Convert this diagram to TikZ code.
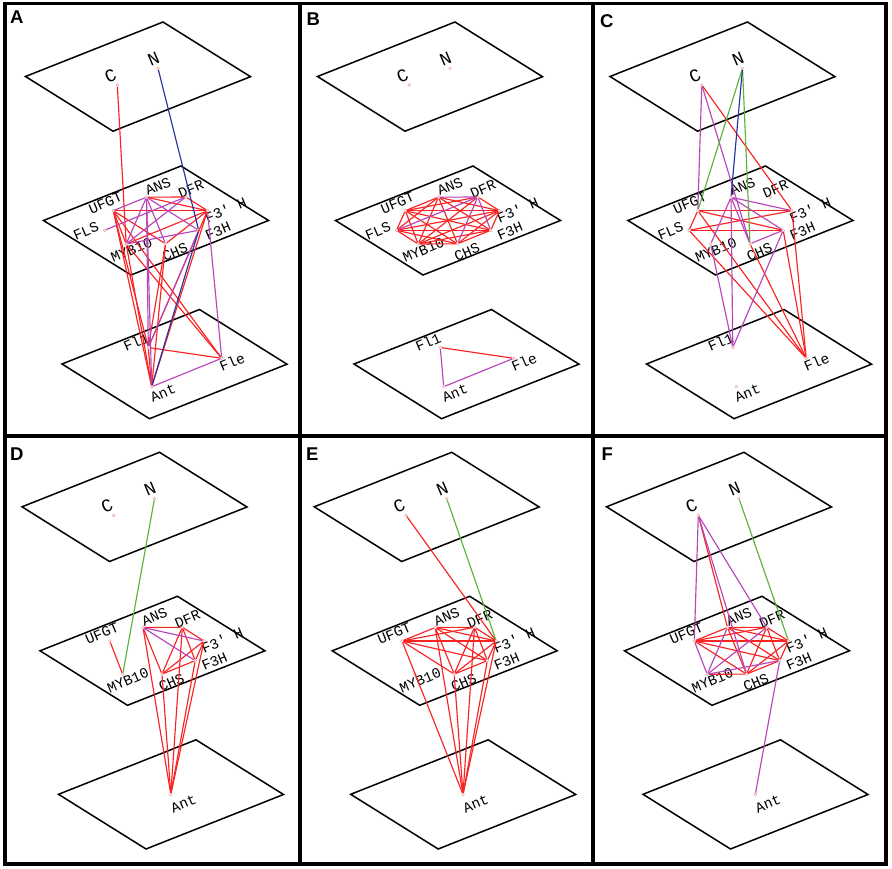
\documentclass[tikz,border=0pt]{standalone}
\usepackage{fontspec}
\usepackage{graphicx}
\newfontfamily\labfont{Liberation Mono}
\newfontfamily\panfont{Liberation Sans}
\definecolor{er}{RGB}{250,35,35}
\definecolor{em}{RGB}{185,70,185}
\definecolor{eb}{RGB}{40,50,160}
\definecolor{eg}{RGB}{90,180,60}
\definecolor{dotc}{RGB}{235,165,165}
\newcommand\rt[1]{\rotatebox{23}{#1}}
\tikzset{
 plane/.style={draw=black, line width=1.5pt, line join=miter},
 frame/.style={draw=black, line width=3.6pt},
 nd/.style={circle, draw=dotc, line width=0.5pt, inner sep=0pt, minimum size=2.8pt},
 lab/.style={font=\labfont\fontsize{14.5}{14.5}\selectfont, inner sep=0pt},
 biglab/.style={font=\labfont\fontsize{18}{18}\selectfont, inner sep=0pt},
 pan/.style={font=\panfont\bfseries\fontsize{18.5}{18.5}\selectfont, anchor=north west, inner sep=0pt},
 re/.style={draw=er, line width=1.15pt},
 ma/.style={draw=em, line width=1.15pt},
 bl/.style={draw=eb, line width=1.15pt},
 gr/.style={draw=eg, line width=1.15pt},
}
\newcommand\planes{%
 \draw[plane] (25.5,76.5) -- (163,22) -- (250.5,76.7) -- (113,131.2) -- cycle;
 \draw[plane] (43.5,220.5) -- (181,166) -- (268.5,220.5) -- (131,275) -- cycle;
 \draw[plane] (62,364) -- (199.5,309.5) -- (287,364.2) -- (149.5,418.7) -- cycle;
}
\newcommand\topnodes[1]{%
 \node[nd] (#1C) at (117.3,85) {};
 \node[nd] (#1N) at (158,68.3) {};
 \node[biglab] (#1Cl) at (110.5,76) {\rt{C}};
 \node[biglab] (#1Nl) at (153.5,59) {\rt{N}};
}
\newcommand\midnodes[1]{%
 \node[nd] (#1U) at (113.3,210.7) {};
 \node[nd] (#1A) at (146.5,197.2) {};
 \node[nd] (#1D) at (185.8,197) {};
 \node[nd] (#1P) at (207.5,210.7) {};
 \node[nd] (#1H) at (198.7,230.3) {};
 \node[nd] (#1S) at (165.5,243.8) {};
 \node[nd] (#1M) at (126.2,244) {};
 \node[lab] (#1Ul) at (105.5,203) {\rt{UFGT}};
 \node[lab] (#1Al) at (158,186.5) {\rt{ANS}};
 \node[lab] (#1Dl) at (191,189) {\rt{DFR}};
 \node[lab] (#1Pl) at (225.5,210) {\rt{F3' H}};
 \node[lab] (#1Hl) at (218,231) {\rt{F3H}};
 \node[lab] (#1Sl) at (175,252) {\rt{CHS}};
 \node[lab] (#1Ml) at (131.5,250) {\rt{MYB10}};
}
\newcommand\flsnode[1]{%
 \node[nd] (#1L) at (104.5,230.3) {};
 \node[lab] (#1Ll) at (86,231) {\rt{FLS}};
}
\newcommand\botthree[1]{%
 \node[nd] (#1F) at (148.3,347.5) {};
 \node[nd] (#1E) at (221.7,358.3) {};
 \node[nd] (#1T) at (151.7,386.7) {};
 \node[lab] (#1Fl) at (136,342) {\rt{Fl1}};
 \node[lab] (#1El) at (232,362) {\rt{Fle}};
 \node[lab] (#1Tl) at (163,393) {\rt{Ant}};
}
\newcommand\botone[1]{%
 \node[nd] (#1T) at (174.3,364) {};
 \node[lab] (#1Tl) at (187,373.5) {\rt{Ant}};
}
\begin{document}
\begin{tikzpicture}[x=1pt,y=-1pt]
\useasboundingbox (0,0) rectangle (892,869);
\fill[white] (0,0) rectangle (892,869);
% ---------- panel A
\begin{scope}
 \planes \topnodes{a} \midnodes{a} \flsnode{a} \botthree{a}
 \foreach \p/\q in {C/M,A/D,A/P,D/P,U/P,U/S,P/S,M/P,U/M,U/F,U/T,U/E,M/T,M/E,S/T,S/F,P/F,P/T,F/E,F/T}
  \draw[re] (a\p) -- (a\q);
 \foreach \p/\q in {U/A,A/M,A/S,A/H,M/D,L/D,M/H,A/F,A/T,P/E,H/F,T/E}
  \draw[ma] (a\p) -- (a\q);
 \foreach \p/\q in {N/H,H/T}
  \draw[bl] (a\p) -- (a\q);
\end{scope}
% ---------- panel B
\begin{scope}[shift={(292,0)}]
 \planes \topnodes{b} \midnodes{b} \flsnode{b} \botthree{b}
 \foreach \p/\q in {U/A,U/D,U/P,U/H,U/S,U/M,U/L,A/P,A/H,A/S,A/M,A/L,D/P,D/M,P/H,P/S,P/M,P/L,H/S,H/M,H/L,S/M,S/L,M/L,F/E}
  \draw[re] (b\p) -- (b\q);
 \foreach \p/\q in {D/A,D/L,D/S,D/H,F/T,T/E}
  \draw[ma] (b\p) -- (b\q);
\end{scope}
% ---------- panel C
\begin{scope}[shift={(584.5,0)}]
 \planes \topnodes{c} \midnodes{c} \flsnode{c} \botthree{c}
 \foreach \p/\q in {C/P,U/P,L/H,U/L,L/P,U/H,U/E,L/E,P/E,H/E,S/E}
  \draw[re] (c\p) -- (c\q);
 \foreach \p/\q in {C/U,C/S,A/P,A/H,A/M,A/S,S/H,A/F,H/F,M/F}
  \draw[ma] (c\p) -- (c\q);
 \foreach \p/\q in {N/U,N/S}
  \draw[gr] (c\p) -- (c\q);
 \draw[bl] (cN) -- (cA);
\end{scope}
% ---------- panel D
\begin{scope}[shift={(-3.5,430.3)}]
 \planes \topnodes{d} \midnodes{d} \botone{d}
 \foreach \p/\q in {U/M,A/D,A/S,D/P,D/S,D/H,S/P,S/H,P/H,A/T,S/T,D/T,H/T,P/T}
  \draw[re] (d\p) -- (d\q);
 \foreach \p/\q in {A/P,A/H}
  \draw[ma] (d\p) -- (d\q);
 \draw[gr] (dN) -- (dM);
\end{scope}
% ---------- panel E
\begin{scope}[shift={(288.7,430.3)}]
 \planes \topnodes{e} \midnodes{e} \botone{e}
 \foreach \p/\q in {C/P,U/A,U/D,U/P,U/H,U/S,A/D,A/P,A/H,A/S,D/P,D/H,D/S,P/H,P/S,H/S,U/T,A/T,D/T,S/T,H/T,P/T}
  \draw[re] (e\p) -- (e\q);
 \draw[gr] (eN) -- (eP);
\end{scope}
% ---------- panel F
\begin{scope}[shift={(581,430.3)}]
 \planes \topnodes{f} \midnodes{f} \botone{f}
 \foreach \p/\q in {C/A,U/A,U/D,U/P,U/H,U/S,A/D,A/P,A/H,A/S,D/P,D/H,D/S,P/H,P/S,H/S,M/S}
  \draw[re] (f\p) -- (f\q);
 \foreach \p/\q in {C/U,C/S,C/D,M/U,M/A,M/D,M/H,H/T}
  \draw[ma] (f\p) -- (f\q);
 \draw[gr] (fN) -- (fP);
\end{scope}
% ---------- frames and panel letters
\draw[frame] (4.7,3.7) rectangle (885.7,864);
\draw[frame] (299.7,3.7) -- (299.7,864);
\draw[frame] (593,3.7) -- (593,864);
\draw[frame] (4.7,435.7) -- (885.7,435.7);
\node[pan] (pA) at (10,10.5) {A};
\node[pan] (pB) at (306.5,13) {B};
\node[pan] (pC) at (600,14.5) {C};
\node[pan] (pD) at (10,447.5) {D};
\node[pan] (pE) at (306,448) {E};
\node[pan] (pF) at (601.5,448) {F};
\end{tikzpicture}
\end{document}
